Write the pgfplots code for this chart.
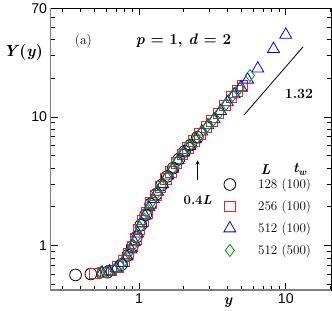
\documentclass[border=0pt]{standalone}
\usepackage{pgfplots}
\pgfplotsset{compat=1.18}
\usepackage{fontspec}
\newfontfamily\tickfont{Liberation Sans}
\definecolor{myred}{RGB}{255,30,30}
\definecolor{myblue}{RGB}{0,0,255}
\definecolor{mygreen}{RGB}{0,150,0}
\begin{document}
\begin{tikzpicture}
\begin{axis}[
  scale only axis, width=277bp, height=278bp,
  xmode=log, ymode=log,
  xmin=0.25, xmax=20.4, ymin=0.45, ymax=70,
  xtick={1,10}, xticklabels={1,10},
  ytick={1,10,70}, yticklabels={1,10,70},
  minor xtick={0.3,0.4,0.5,0.6,0.7,0.8,0.9,2,3,4,5,6,7,8,9,20},
  minor ytick={0.5,0.6,0.7,0.8,0.9,2,3,4,5,6,7,8,9,20,30,40,50,60},
  tick align=inside,
  major tick length=7bp, minor tick length=4bp,
  tick style={black, line width=0.8bp},
  axis line style={line width=1bp},
  tick label style={font=\tickfont\fontsize{14}{14}\selectfont},
  legend cell align=left,
  legend style={at={(axis description cs:0.606,0.41)}, anchor=north west, draw=none, fill=none,
    font=\fontsize{13}{15}\selectfont, row sep=6.5bp,
    /tikz/every odd column/.append style={column sep=20bp}},
]
\addplot[only marks, mark=o, mark size=5.8bp, black, mark options={line width=0.8bp}] coordinates {
(0.37,0.59) (0.47,0.60) (0.61,0.62) (0.76,0.71) (0.84,0.84) (0.90,0.98) (0.96,1.16)
(1.03,1.44) (1.11,1.73) (1.20,2.10) (1.31,2.50) (1.43,2.95) (1.56,3.45) (1.71,4.00)
(1.87,4.70) (2.05,5.40) (2.25,6.05) (2.50,6.95)
};
\addlegendentry{128 (100)}
\addplot[only marks, mark=square, mark size=5.2bp, myred, mark options={line width=0.8bp}] coordinates {
(0.50,0.605) (0.57,0.615) (0.65,0.64) (0.72,0.68) (0.79,0.76) (0.85,0.87) (0.90,0.98)
(0.95,1.12) (1.00,1.33) (1.06,1.55) (1.13,1.80) (1.21,2.15) (1.30,2.45) (1.40,2.85)
(1.52,3.30) (1.65,3.75) (1.80,4.40) (1.97,5.10) (2.15,5.75) (2.37,6.50) (2.60,7.40)
(2.87,8.40) (3.15,9.30) (3.48,10.7) (3.85,12.3) (4.25,14.3) (4.70,16.0) (5.05,17.4)
};
\addlegendentry{256 (100)}
\addplot[only marks, mark=triangle, mark size=6.8bp, myblue, mark options={line width=0.8bp}] coordinates {
(0.56,0.615) (0.63,0.63) (0.70,0.665) (0.77,0.73) (0.83,0.82) (0.88,0.93) (0.93,1.06)
(0.98,1.24) (1.04,1.48) (1.10,1.70) (1.17,1.98) (1.25,2.30) (1.34,2.62) (1.45,3.00)
(1.57,3.50) (1.70,3.95) (1.85,4.60) (2.02,5.30) (2.22,5.95) (2.43,6.70) (2.68,7.70)
(2.95,8.60) (3.25,9.60) (3.60,11.1) (4.00,13.0) (4.45,15.0) (4.95,17.0) (5.50,19.5)
(6.45,23.8) (8.25,33.8) (10.0,43.6)
};
\addlegendentry{512 (100)}
\addplot[only marks, mark=diamond, mark size=6bp, mygreen, mark options={line width=0.8bp}] coordinates {
(0.55,0.615) (0.61,0.625) (0.68,0.65) (0.74,0.70) (0.80,0.77) (0.86,0.89) (0.91,1.00)
(0.96,1.16) (1.01,1.38) (1.07,1.58) (1.14,1.85) (1.22,2.18) (1.32,2.55) (1.42,2.90)
(1.54,3.40) (1.68,3.90) (1.83,4.50) (2.00,5.20) (2.20,5.90) (2.42,6.65) (2.66,7.60)
(2.93,8.50) (3.22,9.50) (3.55,10.9) (3.92,12.6) (4.35,14.7) (4.85,16.8) (5.70,21.0)
};
\addlegendentry{512 (500)}
\coordinate (S1) at (axis cs:5.21,10.4);
\coordinate (S2) at (axis cs:13.1,35.1);
\coordinate (T132) at (axis cs:12.3,15.2);
\coordinate (Ta) at (axis cs:0.418,39);
\coordinate (Tp) at (axis cs:2.01,39);
\coordinate (A1) at (axis cs:2.51,3.25);
\coordinate (A2) at (axis cs:2.51,4.59);
\coordinate (T04) at (axis cs:2.51,2.26);
\coordinate (TL) at (axis cs:7.28,3.9);
\coordinate (Ttw) at (axis cs:12.5,3.9);
\coordinate (TY) at (axis description cs:-0.0975,0.842);
\coordinate (Tx) at (axis description cs:0.632,-0.043);
\coordinate (C00) at (axis description cs:0,0);
\coordinate (C01) at (axis description cs:0,1);
\coordinate (C10) at (axis description cs:1,0);
\end{axis}
\draw[line width=0.8bp] (S1) -- (S2);
\node at (T132) {\fontsize{14}{16}\selectfont\bfseries 1.32};
\node at (Ta) {\fontsize{13.5}{15}\selectfont (a)};
\node at (Tp) {\fontsize{15}{16}\selectfont\bfseries\textit{p} = 1, \textit{d} = 2};
\draw[-stealth, line width=0.8bp] (A1) -- (A2);
\node at (T04) {\fontsize{13}{15}\selectfont\bfseries 0.4\textit{L}};
\node at (TL) {\fontsize{14}{16}\selectfont\bfseries\itshape L};
\node at (Ttw) {\fontsize{14}{16}\selectfont\bfseries\itshape t\textsubscript{w}};
\node at (TY) {\fontsize{16}{18}\selectfont\bfseries\textit{Y}(\textit{y})};
\node at (Tx) {\fontsize{15}{17}\selectfont\bfseries\itshape y};
\draw[gray, line width=1.5bp] (C01) -- (C00) -- (C10);
\end{tikzpicture}
\end{document}
